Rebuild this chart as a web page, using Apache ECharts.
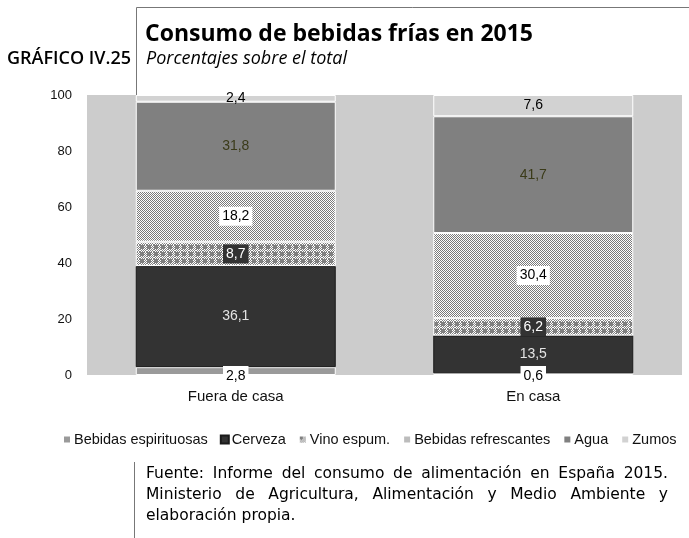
<!DOCTYPE html>
<html>
<head>
<meta charset="utf-8">
<script src="https://cdn.jsdelivr.net/npm/echarts@6/dist/echarts.min.js"></script>
<style>
  html, body { margin: 0; padding: 0; background: #fff; }
  #chart { width: 689px; height: 538px; }
</style>
</head>
<body>
<div id="chart"></div>
<script>
// Consumption of cold drinks in 2015, share of total (%)
const categories = ['Fuera de casa', 'En casa'];
const seriesNames = ['Bebidas espirituosas', 'Cerveza', 'Vino espum.', 'Bebidas refrescantes', 'Agua', 'Zumos'];
const espirituosas = [2.8, 0.6];
const cerveza = [36.1, 13.5];
const vinoEspum = [8.7, 6.2];
const refrescantes = [18.2, 30.4];
const agua = [31.8, 41.7];
const zumos = [2.4, 7.6];
const yTicks = [0, 20, 40, 60, 80, 100];

const footerLines = [
  'Fuente: Informe del consumo de alimentación en España 2015.',
  'Ministerio de Agricultura, Alimentación y Medio Ambiente y',
  'elaboración propia.'
];

// Pattern fills
function makeTile(size, painter) {
  const c = document.createElement('canvas');
  c.width = size; c.height = size;
  const ctx = c.getContext('2d');
  ctx.fillStyle = '#ffffff';
  ctx.fillRect(0, 0, size, size);
  painter(ctx);
  return c;
}
const fineChecker = makeTile(2, ctx => {
  ctx.fillStyle = '#7a7a7a';
  ctx.fillRect(0, 0, 1, 1);
  ctx.fillRect(1, 1, 1, 1);
});
const blockChecker = makeTile(7, ctx => {
  ctx.fillStyle = '#808080';
  ctx.fillRect(0, 0, 4, 4);
  for (let y = 0; y < 7; y++) {
    for (let x = 0; x < 7; x++) {
      if ((x >= 4 || y >= 4) && (x + y) % 2 === 0) ctx.fillRect(x, y, 1, 1);
    }
  }
});

const fmt = p => p.value.toFixed(1).replace('.', ',');
const sans = 'Liberation Sans, Arial, sans-serif';
const labelFont = { fontFamily: sans, fontSize: 14 };

function bar(name, data, color, border, label) {
  return {
    name, type: 'bar', stack: 'total', data, barWidth: 200,
    itemStyle: { color, borderColor: border, borderWidth: 1 },
    label: Object.assign({ show: true, formatter: fmt }, labelFont, label),
    emphasis: { disabled: true }
  };
}

const chart = echarts.init(document.getElementById('chart'), null, { renderer: 'canvas' });

// Justified footer text, word by word
const mctx = document.createElement('canvas').getContext('2d');
const footFont = '15.5px "DejaVu Sans"';
mctx.font = footFont;
const footLeft = 146, footRight = 668;
const footerGraphics = [];
footerLines.forEach((line, i) => {
  const y = 466 + i * 21;
  if (i === footerLines.length - 1) {
    footerGraphics.push({ type: 'text', x: footLeft, y: y,
      style: { text: line, font: footFont, fill: '#000' } });
    return;
  }
  const words = line.split(' ');
  const widths = words.map(w => mctx.measureText(w).width);
  const total = widths.reduce((a, b) => a + b, 0);
  const gap = (footRight - footLeft - total) / (words.length - 1);
  let x = footLeft;
  words.forEach((w, j) => {
    footerGraphics.push({ type: 'text', x: x, y: y,
      style: { text: w, font: footFont, fill: '#000' } });
    x += widths[j] + gap;
  });
});

chart.setOption({
  animation: false,
  backgroundColor: '#ffffff',
  grid: { left: 87, right: 7, top: 95, bottom: 163, show: true, backgroundColor: '#cccccc', borderWidth: 0 },
  legend: {
    data: seriesNames, left: 57, top: 427, itemWidth: 8, itemHeight: 8, itemGap: 12,
    icon: 'rect',
    textStyle: { fontFamily: sans, fontSize: 14.5, color: '#111', padding: [0, 0, 0, -2] }
  },
  xAxis: {
    type: 'category', data: categories,
    axisLine: { show: false }, axisTick: { show: false },
    axisLabel: { margin: 14, color: '#111', fontFamily: sans, fontSize: 15 }
  },
  yAxis: {
    type: 'value', min: yTicks[0], max: yTicks[yTicks.length - 1], interval: 20,
    splitLine: { show: false }, axisLine: { show: false }, axisTick: { show: false },
    axisLabel: { margin: 15, color: '#111', fontFamily: sans, fontSize: 13 }
  },
  series: [
    bar(seriesNames[0], espirituosas, '#9a9a9a', '#ffffff',
      { position: 'insideBottom', distance: -10, color: '#000', backgroundColor: '#ffffff', padding: [3, 3, 2, 3] }),
    bar(seriesNames[1], cerveza, '#333333', '#1a1a1a', { color: '#e4e4e4' }),
    bar(seriesNames[2], vinoEspum, { image: blockChecker, repeat: 'repeat' }, '#ffffff',
      { color: '#ffffff', backgroundColor: '#333333', padding: [3, 3, 2, 3] }),
    bar(seriesNames[3], refrescantes, { image: fineChecker, repeat: 'repeat' }, '#ffffff',
      { color: '#000', backgroundColor: '#ffffff', padding: [3, 3, 2, 3] }),
    bar(seriesNames[4], agua, '#808080', '#ffffff', { color: '#3a3a18' }),
    bar(seriesNames[5], zumos, '#d2d2d2', '#ffffff', { color: '#000' })
  ],
  graphic: [
    { type: 'line', shape: { x1: 136.5, y1: 7.5, x2: 689, y2: 7.5 }, style: { stroke: '#777', lineWidth: 1 } },
    { type: 'line', shape: { x1: 136.5, y1: 7.5, x2: 136.5, y2: 95 }, style: { stroke: '#777', lineWidth: 1 } },
    { type: 'line', shape: { x1: 134.5, y1: 462, x2: 134.5, y2: 538 }, style: { stroke: '#777', lineWidth: 1 } },
    { type: 'text', x: 145, y: 23,
      style: { text: 'Consumo de bebidas frías en 2015', font: 'bold 23px "Open Sans"', fill: '#000' } },
    { type: 'text', x: 146, y: 50,
      style: { text: 'Porcentajes sobre el total', font: 'italic 18px "Open Sans"', fill: '#000' } },
    { type: 'text', x: 7, y: 50,
      style: { text: 'GRÁFICO IV.25', font: '600 18px "Open Sans"', fill: '#000' } }
  ].concat(footerGraphics)
});
</script>
</body>
</html>
